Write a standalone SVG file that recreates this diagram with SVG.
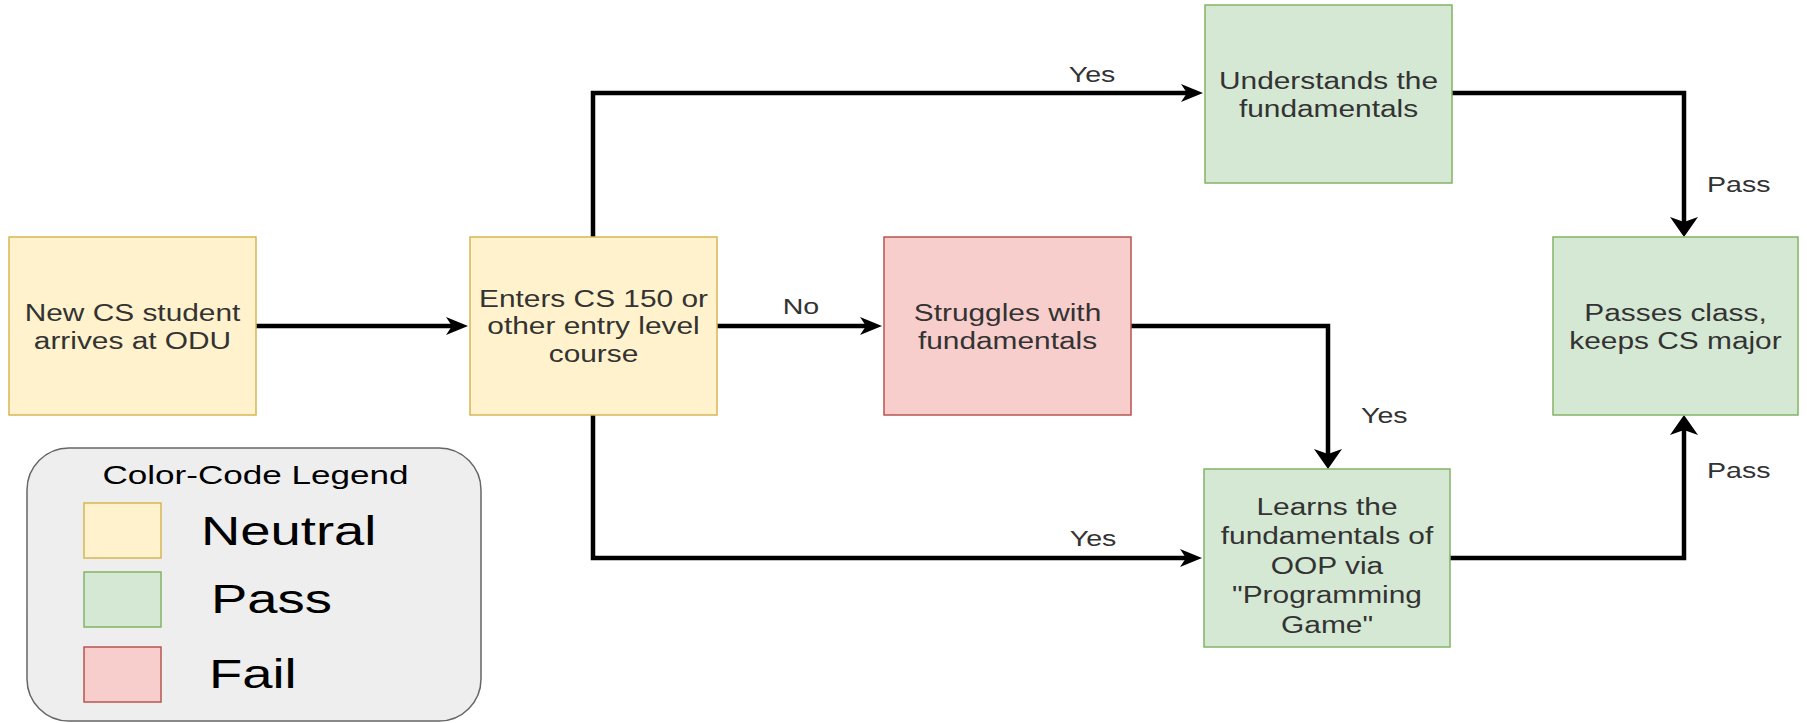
<svg xmlns="http://www.w3.org/2000/svg" width="1807" height="723" viewBox="0 0 1807 723">
  <style>
    .neutral { fill: #fff2cc; stroke: #d6b656; stroke-width: 1.5; }
    .pass { fill: #d5e8d4; stroke: #82b366; stroke-width: 1.5; }
    .fail { fill: #f8cecc; stroke: #b85450; stroke-width: 1.5; }
    .nt { font-family: "Liberation Sans", Arial, sans-serif; font-size: 23.5px; fill: #333333; text-anchor: middle; }
    .nt2 { font-family: "Liberation Sans", Arial, sans-serif; font-size: 24.5px; fill: #333333; text-anchor: middle; }
    .lbl { font-family: "Liberation Sans", Arial, sans-serif; font-size: 22px; fill: #333333; }
    .edge { fill: none; stroke: #000000; stroke-width: 4.5; stroke-linejoin: miter; }
    .lg { font-family: "Liberation Sans", Arial, sans-serif; fill: #000000; }
  </style>
  <defs>
    <marker id="ah" markerUnits="userSpaceOnUse" markerWidth="24" markerHeight="20" refX="12" refY="9" orient="auto" overflow="visible">
      <path d="M0,0 L22,9 L0,18 L6,9 Z" fill="#000"/>
    </marker>
    <marker id="av" markerUnits="userSpaceOnUse" markerWidth="22" markerHeight="30" refX="10" refY="14" orient="auto" overflow="visible">
      <path d="M0,0 L20,14 L0,28 L5,14 Z" fill="#000"/>
    </marker>
  </defs>
  <rect width="1807" height="723" fill="#ffffff"/>

  <g id="connectors">
    <path class="edge" d="M256,326 L458,326" marker-end="url(#ah)"/>
    <path class="edge" d="M717,326 L872,326" marker-end="url(#ah)"/>
    <path class="edge" d="M593,237 L593,93 L1193,93" marker-end="url(#ah)"/>
    <path class="edge" d="M593,415 L593,558 L1192,558" marker-end="url(#ah)"/>
    <path class="edge" d="M1131,326 L1328,326 L1328,459" marker-end="url(#av)"/>
    <path class="edge" d="M1452,93 L1684,93 L1684,227" marker-end="url(#av)"/>
    <path class="edge" d="M1450,558 L1684,558 L1684,425" marker-end="url(#av)"/>
    <text class="lbl" transform="translate(801,314) scale(1.3,1)" text-anchor="middle">No</text>
    <text class="lbl" transform="translate(1092,82) scale(1.3,1)" text-anchor="middle">Yes</text>
    <text class="lbl" transform="translate(1093,546) scale(1.3,1)" text-anchor="middle">Yes</text>
    <text class="lbl" transform="translate(1361,423) scale(1.3,1)">Yes</text>
    <text class="lbl" transform="translate(1707,192) scale(1.3,1)">Pass</text>
    <text class="lbl" transform="translate(1707,478) scale(1.3,1)">Pass</text>
  </g>

  <g id="node-new-student">
    <rect class="neutral" x="9" y="237" width="247" height="178"/>
    <text class="nt" transform="translate(132.5,320.5) scale(1.27,1)">New CS student</text>
    <text class="nt" transform="translate(132.5,348.5) scale(1.27,1)">arrives at ODU</text>
  </g>

  <g id="node-enters-cs150">
    <rect class="neutral" x="470" y="237" width="247" height="178"/>
    <text class="nt" transform="translate(593.5,306.5) scale(1.27,1)">Enters CS 150 or</text>
    <text class="nt" transform="translate(593.5,334.3) scale(1.27,1)">other entry level</text>
    <text class="nt" transform="translate(593.5,362) scale(1.27,1)">course</text>
  </g>

  <g id="node-struggles">
    <rect class="fail" x="884" y="237" width="247" height="178"/>
    <text class="nt" transform="translate(1007.5,320.5) scale(1.27,1)">Struggles with</text>
    <text class="nt" transform="translate(1007.5,348.5) scale(1.27,1)">fundamentals</text>
  </g>

  <g id="node-understands">
    <rect class="pass" x="1205" y="5" width="247" height="178"/>
    <text class="nt" transform="translate(1328.5,89) scale(1.27,1)">Understands the</text>
    <text class="nt" transform="translate(1328.5,117) scale(1.27,1)">fundamentals</text>
  </g>

  <g id="node-learns">
    <rect class="pass" x="1204" y="469" width="246" height="178"/>
    <text class="nt2" transform="translate(1327,515) scale(1.22,1)">Learns the</text>
    <text class="nt2" transform="translate(1327,544.4) scale(1.22,1)">fundamentals of</text>
    <text class="nt2" transform="translate(1327,573.8) scale(1.22,1)">OOP via</text>
    <text class="nt2" transform="translate(1327,603.2) scale(1.22,1)">"Programming</text>
    <text class="nt2" transform="translate(1327,632.6) scale(1.22,1)">Game"</text>
  </g>

  <g id="node-passes">
    <rect class="pass" x="1553" y="237" width="245" height="178"/>
    <text class="nt" transform="translate(1675.5,320.5) scale(1.27,1)">Passes class,</text>
    <text class="nt" transform="translate(1675.5,348.5) scale(1.27,1)">keeps CS major</text>
  </g>

  <g id="legend">
    <rect x="27" y="448" width="454" height="273" rx="42" ry="42" fill="#eeeeee" stroke="#666666" stroke-width="1.5"/>
    <text class="lg" transform="translate(255.5,484) scale(1.35,1)" font-size="26" fill="#333333" text-anchor="middle">Color-Code Legend</text>
    <rect class="neutral" x="84" y="503" width="77" height="55"/>
    <rect class="pass" x="84" y="572" width="77" height="55"/>
    <rect class="fail" x="84" y="647" width="77" height="55"/>
    <text class="lg" transform="translate(201,545) scale(1.36,1)" font-size="40">Neutral</text>
    <text class="lg" transform="translate(211,613) scale(1.36,1)" font-size="40">Pass</text>
    <text class="lg" transform="translate(209,688) scale(1.36,1)" font-size="40">Fail</text>
  </g>
</svg>
